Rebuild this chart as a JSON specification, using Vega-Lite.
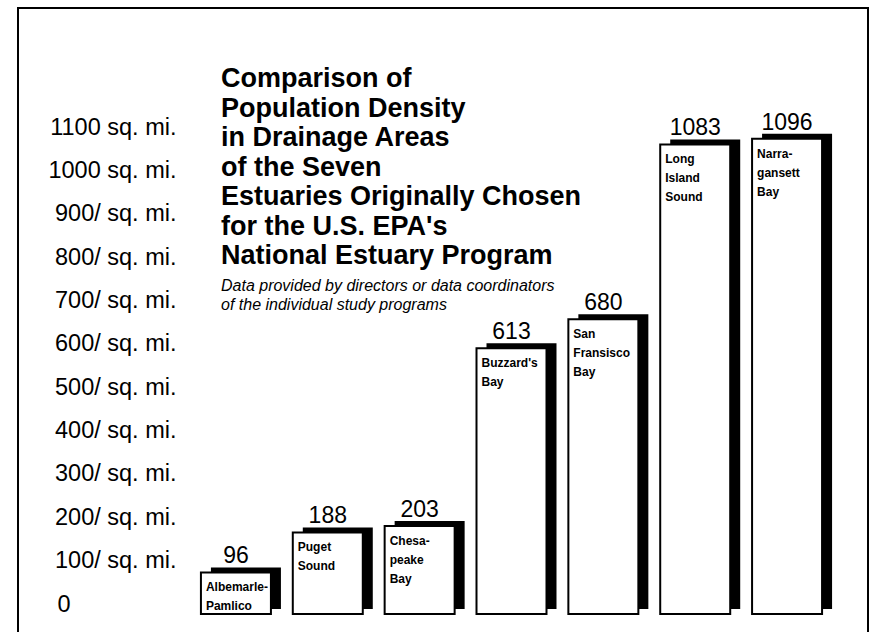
{
  "$schema": "https://vega.github.io/schema/vega-lite/v6.json",
  "width": 850,
  "height": 628,
  "autosize": {"type": "none"},
  "padding": {"left": 18, "top": 8, "right": 3, "bottom": 0},
  "background": "white",
  "config": {"view": {"stroke": "black", "strokeWidth": 2}, "font": "Liberation Sans"},
  "title": {
    "text": ["Comparison of", "Population Density", "in Drainage Areas", "of the Seven", "Estuaries Originally Chosen", "for the U.S. EPA's", "National Estuary Program"],
    "subtitle": ["Data provided by directors or data coordinators", "of the individual study programs"],
    "anchor": "start",
    "frame": "group",
    "orient": "top",
    "font": "Liberation Sans",
    "fontSize": 27,
    "fontWeight": "bold",
    "lineHeight": 29.5,
    "color": "black",
    "subtitleFont": "Liberation Sans",
    "subtitleFontSize": 16,
    "subtitleFontStyle": "italic",
    "subtitleLineHeight": 19,
    "subtitleColor": "black",
    "subtitlePadding": 8,
    "offset": 0,
    "dx": 203,
    "dy": 306
  },
  "data": {
    "values": [
      {"estuary": "Albemarle-Pamlico", "label": "Albemarle-\nPamlico", "density": 96},
      {"estuary": "Puget Sound", "label": "Puget\nSound", "density": 188},
      {"estuary": "Chesapeake Bay", "label": "Chesa-\npeake\nBay", "density": 203},
      {"estuary": "Buzzard's Bay", "label": "Buzzard's\nBay", "density": 613},
      {"estuary": "San Fransisco Bay", "label": "San\nFransisco\nBay", "density": 680},
      {"estuary": "Long Island Sound", "label": "Long\nIsland\nSound", "density": 1083},
      {"estuary": "Narragansett Bay", "label": "Narra-\ngansett\nBay", "density": 1096}
    ]
  },
  "encoding": {
    "x": {
      "field": "estuary",
      "type": "nominal",
      "sort": null,
      "scale": {"range": [172, 815], "paddingInner": 0.238, "paddingOuter": 0.119},
      "axis": null
    },
    "y": {
      "field": "density",
      "type": "quantitative",
      "scale": {"domain": [-50.7, 1397.5], "nice": false, "zero": false},
      "axis": {
        "orient": "left",
        "values": [0, 100, 200, 300, 400, 500, 600, 700, 800, 900, 1000, 1100],
        "offset": -158,
        "domain": false,
        "ticks": false,
        "grid": false,
        "title": null,
        "labelExpr": "datum.value == 0 ? '0' : (datum.value >= 1000 ? datum.value + ' sq. mi.' : datum.value + '/ sq. mi.')",
        "labelFont": "Liberation Sans",
        "labelFontSize": 23.5,
        "labelColor": "black",
        "labelAlign": "right",
        "labelBaseline": "middle",
        "labelOffset": -10,
        "labelPadding": {"condition": {"test": "datum.value == 0", "value": 106}, "value": 0},
        "labelFlush": false,
        "labelOverlap": false,
        "labelBound": false
      }
    }
  },
  "layer": [
    {"mark": {"type": "bar", "color": "black", "xOffset": 10, "x2Offset": 10, "yOffset": -5}},
    {"mark": {"type": "bar", "fill": "white", "stroke": "black", "strokeWidth": 2}},
    {
      "mark": {"type": "text", "font": "Liberation Sans", "fontSize": 23, "dy": -9, "baseline": "alphabetic", "color": "black"},
      "encoding": {"text": {"field": "density", "type": "quantitative"}}
    },
    {
      "mark": {"type": "text", "font": "Liberation Sans", "fontSize": 12, "fontWeight": "bold", "align": "left", "baseline": "top", "dx": 5, "dy": 10, "lineHeight": 19, "lineBreak": "\n", "color": "black"},
      "encoding": {
        "x": {"field": "estuary", "type": "nominal", "sort": null, "bandPosition": 0},
        "text": {"field": "label", "type": "nominal"}
      }
    }
  ]
}
